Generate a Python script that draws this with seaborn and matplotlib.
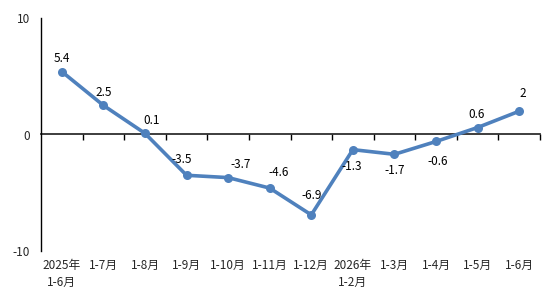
import matplotlib.pyplot as plt
import seaborn as sns
import pandas as pd

categories = ['2025年\n1-6月', '1-7月', '1-8月', '1-9月', '1-10月', '1-11月', '1-12月',
              '2026年\n1-2月', '1-3月', '1-4月', '1-5月', '1-6月']
values = [5.4, 2.5, 0.1, -3.5, -3.7, -4.6, -6.9, -1.3, -1.7, -0.6, 0.6, 2]
labels = ['5.4', '2.5', '0.1', '-3.5', '-3.7', '-4.6', '-6.9', '-1.3', '-1.7', '-0.6', '0.6', '2']

# label offsets in pixels (dx, dy)
offsets = [(0, 13), (0, 13), (7, 13), (-5, 16), (13, 13), (9, 16), (0, 19),
           (-1, -17), (0, -16), (2, -20), (-1, 13), (4, 18)]

sns.set_theme(style='white')
plt.rcParams['font.family'] = ['Noto Sans CJK SC', 'DejaVu Sans']
plt.rcParams['axes.unicode_minus'] = False

df = pd.DataFrame({'x': range(len(categories)), 'y': values})

fig = plt.figure(figsize=(5.54, 3.06), dpi=100)
ax = fig.add_axes([41 / 554, 1 - 251 / 306, 499 / 554, 233 / 306])

sns.lineplot(data=df, x='x', y='y', ax=ax, color='#4F81BD', linewidth=2.6,
             marker='o', markersize=6.5, markeredgewidth=0)

for i, (v, lab) in enumerate(zip(values, labels)):
    dx, dy = offsets[i]
    ax.annotate(lab, (i, v), xytext=(dx * 0.72, dy * 0.72), textcoords='offset points',
                ha='center', va='center', fontsize=8.5, color='black')

ax.set_xlim(-0.5, len(categories) - 0.5)
ax.set_ylim(-10, 10)
ax.set_yticks([-10, 0, 10])
ax.set_xticks(range(len(categories)))
ax.set_xticklabels(categories, fontsize=8.5, linespacing=1.35)
ax.set_xlabel('')
ax.set_ylabel('')

for s in ['top', 'right', 'bottom']:
    ax.spines[s].set_visible(False)
ax.spines['left'].set_color('black')
ax.spines['left'].set_linewidth(1)
ax.tick_params(axis='x', length=0, pad=6)
ax.tick_params(axis='y', direction='in', length=4, width=1, color='black', labelsize=8.5, pad=8)

# horizontal axis line at zero with boundary ticks
sec = ax.secondary_xaxis(0.5)
sec.set_xticks([i + 0.5 for i in range(len(categories))])
sec.set_xticklabels([])
sec.tick_params(axis='x', direction='in', length=4, width=1, color='black')
sec.spines['bottom'].set_color('black')
sec.spines['bottom'].set_linewidth(1)

fig.savefig('out.png', dpi=100)
